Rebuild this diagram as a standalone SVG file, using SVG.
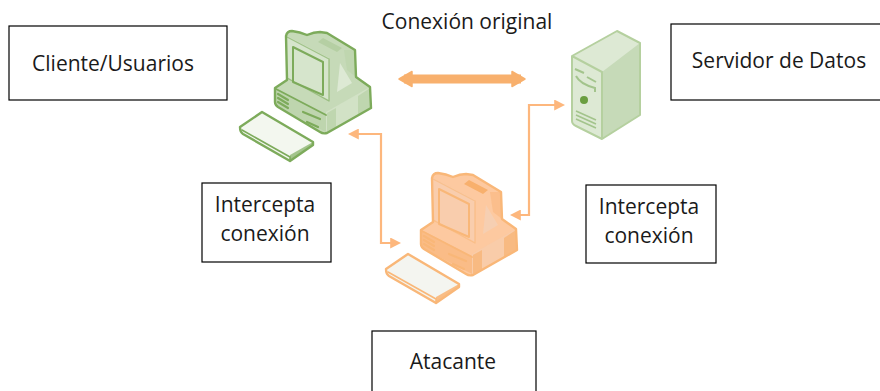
<svg xmlns="http://www.w3.org/2000/svg" width="880" height="391" viewBox="0 0 880 391">
<style>
text{font-family:"Open Sans","Noto Sans","Liberation Sans",sans-serif;font-size:21px;fill:#1a1a1a;text-anchor:middle}
.box{fill:#fff;stroke:#000;stroke-width:1.2}
.ln{fill:none;stroke:#fdb77d;stroke-width:2.2}
.green{--o:#7dab5b;--a:#c6dab8;--b:#dde9d4;--c:#b5cfa3;--d:#f3f7ef;--e:#a3c48c}
.orange{--o:#f9b778;--a:#fdc9a0;--b:#f6cfb2;--c:#f8b06d;--d:#f4f5f0;--e:#f9bd85}
.o{stroke:var(--o);stroke-linejoin:round;stroke-linecap:round;fill:none}
</style>
<defs>
<marker id="ah" markerWidth="5" markerHeight="5" refX="4" refY="2.5" orient="auto-start-reverse" markerUnits="strokeWidth" viewBox="0 0 5 5"><path d="M0,0L5,2.5L0,5Z" fill="#fdb77d"/></marker>
<g id="pc">
<path d="M240,127L262,112L313,142V145L290,161L243,134Q240,132 240,127Z" fill="var(--d)"/>
<path d="M290,155L313,142V145L290,161Z" fill="var(--e)"/>
<path d="M242,130L290,157V161" class="o" stroke-width="1.6"/>
<path d="M240,127L262,112L313,142V145L290,161L243,134Q240,132 240,127Z" class="o" stroke-width="2.4"/>
<path d="M286,36Q287,31 292,31Q300,32 307,35Q314,32 320,32L327,33L355,50L356,77L370,87L371,108L327,133Q323,134 320,132L278,107Q275,105 275,102V88L287,80Z" fill="var(--a)"/>
<path d="M326,132V112L370,87V108Z" fill="var(--b)" opacity=".5"/>
<path d="M358,96L370,88L371,108L358,116ZM327,113L336,108V127L327,132Z" fill="var(--c)" opacity=".65"/>
<path d="M275,88L326,114L326,132L278,107Q275,105 275,102Z" fill="var(--c)" opacity=".5"/>
<path d="M344,50L355,50L356,77L347,70Z" fill="var(--c)" opacity=".4"/>
<path d="M287,36L329,58V100L287,77Z" fill="var(--b)" opacity=".7"/>
<path d="M293,47L323,62V95L293,82Z" fill="var(--b)" class="o" stroke-width="2"/>
<path d="M287,37L329,59V101L287,78" class="o" stroke-width="1.4" opacity=".6"/>
<path d="M318,42L323,38L342,48L337,52Z" fill="var(--c)"/>
<path d="M337,92L340,63L352,83Z" fill="var(--b)"/>
<path d="M276,89L326,115" class="o" stroke-width="1.8"/>
<path d="M303,112L320,119M307,122L318,127M278,94L288,100M278,98L288,104M278,102L288,108" class="o" stroke-width="2.2"/>
<path d="M286,36Q287,31 292,31Q300,32 307,35Q314,32 320,32L327,33L355,50L356,77L370,87L371,108L327,133Q323,134 320,132L278,107Q275,105 275,102V88L287,80Z" class="o" stroke-width="2.4"/>
</g>
</defs>
<g id="connectors">
<path d="M404,79H521" stroke="#f8b06d" stroke-width="9" fill="none"/>
<path d="M399,79L412,71.500V86.500ZM525,79L512,71.500V86.500Z" fill="#f8b06d" stroke="#f8b06d" stroke-width="1.500" stroke-linejoin="round"/>
<path class="ln" d="M350,134H381V243H399" marker-start="url(#ah)" marker-end="url(#ah)"/>
<path class="ln" d="M512,215H529V105H563" marker-start="url(#ah)" marker-end="url(#ah)"/>
</g>
<g id="cliente-pc" class="green"><use href="#pc"/></g>
<g id="atacante-pc" class="orange"><use href="#pc" transform="translate(146,142)"/></g>
<g id="servidor-pc">
<path d="M572,56L617,31L640,43V115L602,139L576,126Q572,124 572,121Z" fill="#c6dab8"/>
<path d="M572,56L617,31L640,43L602,72Z" fill="#dde9d4"/>
<path d="M572,56L602,72V139L576,126Q572,124 572,121Z" fill="#dde9d4"/>
<path d="M572,56L617,31L640,43V115L602,139L576,126Q572,124 572,121ZM572,56L602,72V139" fill="none" stroke="#b5d09f" stroke-width="2" stroke-linejoin="round"/>
<path d="M575,69L584,73M587,77L596,82M576,76Q580,84 595,88V92" fill="none" stroke="#a3c48c" stroke-width="2"/>
<circle cx="584" cy="100" r="4" fill="#6a9e40"/>
<path d="M576,111L596,120M576,115L596,124M576,119L596,128" fill="none" stroke="#a3c48c" stroke-width="1.600"/>
</g>
<g id="titulo"><text x="467" y="29">Conexión original</text></g>
<g id="cliente"><rect class="box" x="9" y="26" width="218" height="74"/><text x="113" y="71">Cliente/Usuarios</text></g>
<g id="servidor"><rect class="box" x="671" y="24" width="210" height="76"/><text x="779" y="68">Servidor de Datos</text></g>
<g id="intercepta-1"><rect class="box" x="202" y="183" width="129" height="79"/><text x="265" y="212">Intercepta</text><text x="265" y="241">conexión</text></g>
<g id="intercepta-2"><rect class="box" x="586" y="185" width="130" height="78"/><text x="649" y="214">Intercepta</text><text x="649" y="243">conexión</text></g>
<g id="atacante"><rect class="box" x="372" y="331" width="164" height="61"/><text x="453" y="369">Atacante</text></g>
</svg>
